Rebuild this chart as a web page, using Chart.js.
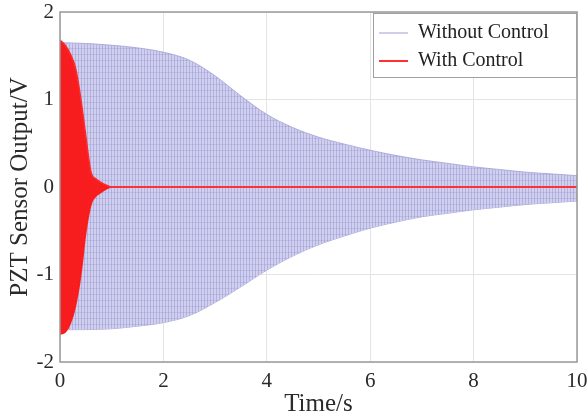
<!DOCTYPE html>
<html>
<head>
<meta charset="utf-8">
<script src="https://cdn.jsdelivr.net/npm/chart.js@4.4.1/dist/chart.umd.min.js"></script>
<style>
  html, body { margin: 0; padding: 0; background: #fff; }
  #wrap { width: 587px; height: 419px; }
</style>
</head>
<body>
<div id="wrap"><canvas id="pzt"></canvas></div>
<script>
// --- data ---
const seriesNames = ["Without Control", "With Control"];
const xTicks = [0, 2, 4, 6, 8, 10];
const yTicks = [-2, -1, 0, 1, 2];

// envelope of the uncontrolled oscillation (V)
const blueTimes = [0, 0.5, 1, 1.5, 2, 2.5, 3, 3.5, 4, 4.5, 5, 5.5, 6, 6.5, 7, 7.5, 8, 8.5, 9, 9.5, 10];
const blueUpper = [1.65, 1.64, 1.62, 1.59, 1.54, 1.45, 1.27, 1.04, 0.83, 0.68, 0.57, 0.49, 0.42, 0.36, 0.31, 0.27, 0.23, 0.20, 0.17, 0.15, 0.13];
const blueLower = [-1.63, -1.63, -1.62, -1.59, -1.55, -1.47, -1.32, -1.14, -0.95, -0.79, -0.66, -0.56, -0.47, -0.40, -0.34, -0.30, -0.26, -0.23, -0.20, -0.18, -0.16];

// envelope of the controlled oscillation (V)
const redTimes = [0, 0.1, 0.2, 0.3, 0.4, 0.5, 0.6, 0.7, 0.8, 0.9, 1.0, 10];
const redUpper = [1.68, 1.62, 1.52, 1.36, 1.02, 0.58, 0.17, 0.09, 0.05, 0.02, 0, 0];
const redLower = [-1.68, -1.66, -1.56, -1.36, -1.02, -0.52, -0.20, -0.10, -0.06, -0.02, 0, 0];

const pts = (xs, ys) => xs.map((x, i) => ({ x: x, y: ys[i] }));

// mesh texture for the dense blue trace
const pc = document.createElement("canvas");
pc.width = 6; pc.height = 6;
const g = pc.getContext("2d");
g.fillStyle = "rgb(208,208,238)";
g.fillRect(0, 0, 6, 6);
g.fillStyle = "rgba(130,130,205,0.38)";
g.fillRect(0, 0, 1, 6);
g.fillRect(3, 0, 1, 6);
g.fillStyle = "rgba(130,130,205,0.25)";
g.fillRect(0, 0, 6, 1);
const ctxMain = document.getElementById("pzt").getContext("2d");
const mesh = ctxMain.createPattern(pc, "repeat");

const SERIF = "'Liberation Serif', 'Times New Roman', serif";

// box round the plot + legend inside it
const framePlugin = {
  id: "frame",
  afterDatasetsDraw(chart) {
    const { ctx, chartArea: a } = chart;
    ctx.save();
    ctx.strokeStyle = "#9a9a9a";
    ctx.lineWidth = 1.5;
    ctx.strokeRect(a.left, a.top, a.right - a.left, a.bottom - a.top);

    // legend
    const lx = 373, ly = a.top + 1, lw = a.right - lx, lh = 65;
    ctx.fillStyle = "#fff";
    ctx.fillRect(lx, ly, lw, lh);
    ctx.strokeStyle = "#a0a0a0";
    ctx.lineWidth = 1;
    ctx.strokeRect(lx + 0.5, ly + 0.5, lw - 1, lh - 1);
    const cols = ["rgb(175,175,215)", "#ff3030"];
    ctx.font = "20px " + SERIF;
    ctx.textBaseline = "middle";
    seriesNames.forEach((name, i) => {
      const y = ly + 20 + i * 28;
      ctx.strokeStyle = cols[i];
      ctx.lineWidth = i ? 2 : 1.2;
      ctx.beginPath();
      ctx.moveTo(379, y);
      ctx.lineTo(408, y);
      ctx.stroke();
      ctx.fillStyle = "#222";
      ctx.fillText(name, 418, y);
    });
    ctx.restore();
  }
};

new Chart(ctxMain, {
  type: "line",
  data: {
    datasets: [
      {
        label: seriesNames[0],
        order: 2,
        data: pts(blueTimes, blueUpper),
        borderColor: "rgba(165,165,218,0.9)",
        borderWidth: 1,
        backgroundColor: mesh,
        fill: "+1",
        pointRadius: 0,
        tension: 0.35
      },
      {
        label: "",
        order: 2,
        data: pts(blueTimes, blueLower),
        borderColor: "rgba(165,165,218,0.9)",
        borderWidth: 1,
        fill: false,
        pointRadius: 0,
        tension: 0.35
      },
      {
        label: seriesNames[1],
        order: 1,
        data: pts(redTimes, redUpper),
        borderColor: "#ff2a2a",
        borderWidth: 1.5,
        backgroundColor: "rgba(250,20,20,0.95)",
        fill: "+1",
        pointRadius: 0,
        cubicInterpolationMode: "monotone"
      },
      {
        label: "",
        order: 1,
        data: pts(redTimes, redLower),
        borderColor: "#ff2a2a",
        borderWidth: 1.5,
        fill: false,
        pointRadius: 0,
        cubicInterpolationMode: "monotone"
      }
    ]
  },
  options: {
    responsive: true,
    maintainAspectRatio: false,
    animation: false,
    layout: { padding: { top: 12, right: 10, left: 5, bottom: 0 } },
    plugins: { legend: { display: false }, tooltip: { enabled: false } },
    scales: {
      x: {
        type: "linear",
        min: 0, max: 10,
        afterBuildTicks: s => { s.ticks = xTicks.map(v => ({ value: v })); },
        afterFit: s => { s.height = 57; s.paddingLeft = 0; s.paddingRight = 0; },
        ticks: { color: "#2a2a2a", font: { family: SERIF, size: 21 }, padding: 7, maxRotation: 0 },
        grid: { color: "#e4e4e4", drawTicks: false },
        border: { display: false },
        title: { display: true, text: "Time/s", color: "#2a2a2a", font: { family: SERIF, size: 25 }, padding: { top: 0, bottom: 0 } }
      },
      y: {
        min: -2, max: 2,
        afterBuildTicks: s => { s.ticks = yTicks.map(v => ({ value: v })); },
        afterFit: s => { s.width = 55; s.paddingTop = 0; s.paddingBottom = 0; },
        ticks: { color: "#2a2a2a", font: { family: SERIF, size: 21 }, padding: 6 },
        grid: { color: "#e4e4e4", drawTicks: false },
        border: { display: false },
        title: { display: true, text: "PZT Sensor Output/V", color: "#2a2a2a", font: { family: SERIF, size: 25 }, padding: { top: 0, bottom: 0 } }
      }
    }
  },
  plugins: [framePlugin]
});
</script>
</body>
</html>
